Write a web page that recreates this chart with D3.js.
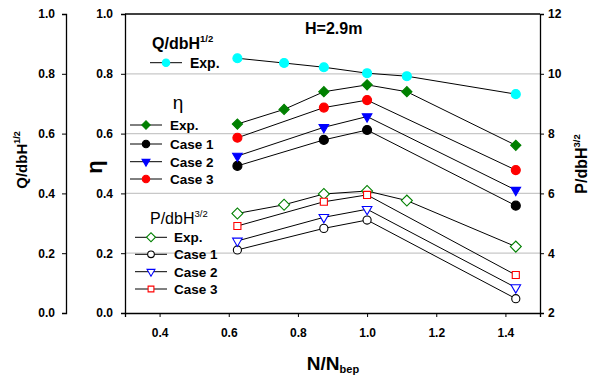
<!DOCTYPE html>
<html><head><meta charset="utf-8">
<script src="https://cdn.jsdelivr.net/npm/d3@7"></script>
<style>
body{margin:0;background:#fff;}
text{font-family:"Liberation Sans",Arial,sans-serif;}
</style></head>
<body><svg id="c" width="592" height="378"></svg>
<script>
// ---- data ----
const xAll = [0.625, 0.76, 0.875, 1.0, 1.115, 1.43];
const xCase = [0.625, 0.875, 1.0, 1.43];
const qExp = [0.852, 0.836, 0.822, 0.802, 0.792, 0.732];
const etaExp = [0.632, 0.681, 0.740, 0.763, 0.740, 0.561];
const etaCase1 = [0.492, 0.579, 0.612, 0.359];
const etaCase2 = [0.525, 0.621, 0.657, 0.411];
const etaCase3 = [0.586, 0.687, 0.712, 0.478];
const pExp = [5.33, 5.62, 5.98, 6.08, 5.76, 4.22];
const pCase1 = [4.11, 4.83, 5.11, 2.48];
const pCase2 = [4.41, 5.20, 5.47, 2.85];
const pCase3 = [4.91, 5.72, 5.95, 3.27];
const xTicks = [0.4, 0.6, 0.8, 1.0, 1.2, 1.4];
const leftTicks = [0, 0.2, 0.4, 0.6, 0.8, 1.0];
const rightTicks = [2, 4, 6, 8, 10, 12];

const svg = d3.select("#c");
const L = 125, R = 540, T = 14, B = 313;
const x = d3.scaleLinear().domain([0.3, 1.5]).range([L, R]);
const yL = d3.scaleLinear().domain([0, 1]).range([B, T]);
const yR = d3.scaleLinear().domain([2, 12]).range([B, T]);

// grid
svg.append("g").selectAll("line").data([0.2, 0.4, 0.6, 0.8]).join("line")
  .attr("x1", L).attr("x2", R).attr("y1", d => yL(d)).attr("y2", d => yL(d))
  .attr("stroke", "#c8c8c8").attr("stroke-width", 1.2);

function styleAxis(g, fs) {
  g.select(".domain").attr("stroke", "#000").attr("stroke-width", 1.3);
  g.selectAll(".tick line").attr("stroke", "#000").attr("stroke-width", 1);
  g.selectAll(".tick text").attr("font-weight", "bold").attr("font-size", fs)
    .attr("font-family", "Liberation Sans, Arial, sans-serif").attr("fill", "#000");
}
// outer Q axis
const gQ = svg.append("g").attr("transform", "translate(66,0)")
  .call(d3.axisLeft(yL).tickValues(leftTicks).tickFormat(d3.format(".1f")).tickSizeOuter(0).tickSize(4).tickPadding(7));
styleAxis(gQ, 12);
// eta axis
const gE = svg.append("g").attr("transform", `translate(${L},0)`)
  .call(d3.axisLeft(yL).tickValues(leftTicks).tickFormat(d3.format(".1f")).tickSizeOuter(0).tickSize(4).tickPadding(8));
styleAxis(gE, 12);
// right axis
const gR = svg.append("g").attr("transform", `translate(${R},0)`)
  .call(d3.axisRight(yR).tickValues(rightTicks).tickFormat(d3.format("d")).tickSizeOuter(0).tickSize(4).tickPadding(4));
styleAxis(gR, 12);
// bottom axis
const gB = svg.append("g").attr("transform", `translate(0,${B})`)
  .call(d3.axisBottom(x).tickValues(xTicks).tickFormat(d3.format(".1f")).tickSizeOuter(0).tickSize(4).tickPadding(11));
styleAxis(gB, 12);
// top frame
svg.append("line").attr("x1", L).attr("x2", R).attr("y1", T).attr("y2", T).attr("stroke", "#000").attr("stroke-width", 1.3);

// axis titles
function supText(sel, base, sup, fs, sfs, weight) {
  sel.attr("font-size", fs).attr("font-weight", weight);
  sel.append("tspan").text(base);
  sel.append("tspan").attr("font-size", sfs).attr("dy", -fs * 0.45).text(sup);
}
supText(svg.append("text").attr("text-anchor", "middle").attr("transform", "translate(27,160) rotate(-90)"), "Q/dbH", "1/2", 15, 9, "bold");
svg.append("text").attr("text-anchor", "middle").attr("transform", "translate(102,167) rotate(-90)")
  .attr("font-size", 22).attr("font-weight", "bold").text("η");
supText(svg.append("text").attr("text-anchor", "middle").attr("transform", "translate(587,164) rotate(-90)"), "P/dbH", "3/2", 16, 9.5, "bold");
const xt = svg.append("text").attr("text-anchor", "middle").attr("x", 333).attr("y", 370).attr("font-size", 19).attr("font-weight", "bold");
xt.append("tspan").text("N/N");
xt.append("tspan").attr("font-size", 11).attr("dy", 3).text("bep");
svg.append("text").attr("x", 305).attr("y", 34).attr("font-size", 16).attr("font-weight", "bold").text("H=2.9m");

// series
const sym = {
  circle: d3.symbol().type(d3.symbolCircle).size(64)(),
  diamond: d3.symbol().type(d3.symbolSquare).size(52)(),
  triDown: d3.symbol().type(d3.symbolTriangle).size(40)(),
  square: d3.symbol().type(d3.symbolSquare).size(50)(),
  ocircle: d3.symbol().type(d3.symbolCircle).size(52)(),
  odiamond: d3.symbol().type(d3.symbolSquare).size(60)()
};
const rot = { diamond: 45, odiamond: 45, triDown: 180 };
function marker(g, cx, cy, shape, fill, stroke, sc) {
  sc = sc || 1;
  g.append("path").attr("d", sym[shape])
    .attr("transform", `translate(${cx},${cy}) rotate(${rot[shape] || 0}) scale(${sc})`)
    .attr("fill", fill).attr("stroke", stroke).attr("stroke-width", 1.1 / sc);
}
const series = [
  { xs: xAll, ys: qExp, y: yL, shape: "circle", fill: "#00ffff", stroke: "#00ffff" },
  { xs: xAll, ys: etaExp, y: yL, shape: "diamond", fill: "#008000", stroke: "#008000" },
  { xs: xCase, ys: etaCase1, y: yL, shape: "circle", fill: "#000", stroke: "#000" },
  { xs: xCase, ys: etaCase2, y: yL, shape: "triDown", fill: "#0000ff", stroke: "#0000ff" },
  { xs: xCase, ys: etaCase3, y: yL, shape: "circle", fill: "#ff0000", stroke: "#ff0000" },
  { xs: xAll, ys: pExp, y: yR, shape: "odiamond", fill: "#fff", stroke: "#008000" },
  { xs: xCase, ys: pCase1, y: yR, shape: "ocircle", fill: "#fff", stroke: "#000" },
  { xs: xCase, ys: pCase2, y: yR, shape: "triDown", fill: "#fff", stroke: "#0000ff" },
  { xs: xCase, ys: pCase3, y: yR, shape: "square", fill: "#fff", stroke: "#ff0000" }
];
const line = d3.line();
series.forEach(s => {
  const pts = s.xs.map((v, i) => [x(v), s.y(s.ys[i])]);
  svg.append("path").attr("d", line(pts)).attr("fill", "none").attr("stroke", "#000").attr("stroke-width", 1);
});
series.forEach(s => {
  const g = svg.append("g");
  s.xs.forEach((v, i) => marker(g, x(v), s.y(s.ys[i]), s.shape, s.fill, s.stroke));
});

// legends
function legendItem(x1, x2, cy, tx, label, s, fs) {
  svg.append("line").attr("x1", x1).attr("x2", x2).attr("y1", cy).attr("y2", cy).attr("stroke", "#000").attr("stroke-width", 1);
  marker(svg, (x1 + x2) / 2, cy, s.shape, s.fill, s.stroke, 0.82);
  svg.append("text").attr("x", tx).attr("y", cy + 5).attr("font-size", fs).attr("font-weight", "bold").text(label);
}
supText(svg.append("text").attr("x", 152).attr("y", 49), "Q/dbH", "1/2", 16, 9.5, "bold");
legendItem(150, 182, 62.7, 190, "Exp.", series[0], 14);

svg.append("text").attr("x", 178).attr("y", 109).attr("text-anchor", "middle").attr("font-size", 19).text("η");
const etaLabels = ["Exp.", "Case 1", "Case 2", "Case 3"];
[125, 144, 161.7, 179].forEach((cy, i) => legendItem(130, 162, cy, 170, etaLabels[i], series[1 + i], 13.5));

supText(svg.append("text").attr("x", 150).attr("y", 224), "P/dbH", "3/2", 16, 9.5, "normal");
[237.3, 254.3, 271.7, 289].forEach((cy, i) => legendItem(135, 167, cy, 174, etaLabels[i], series[5 + i], 13.5));
</script></body></html>
